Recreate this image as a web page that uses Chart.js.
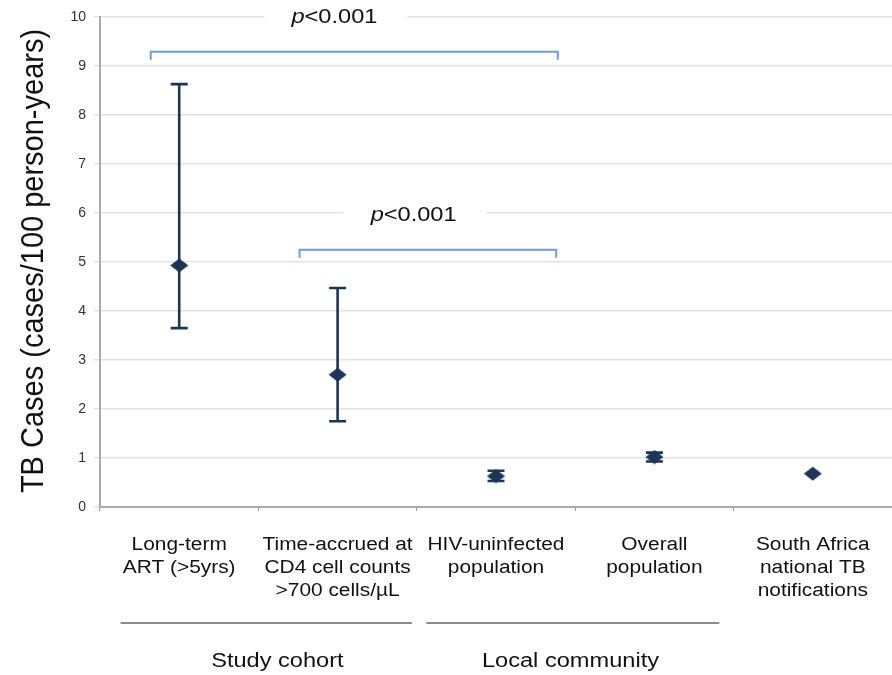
<!DOCTYPE html>
<html>
<head>
<meta charset="utf-8">
<script src="https://cdn.jsdelivr.net/npm/chart.js@4"></script>
<style>
  html, body { margin: 0; padding: 0; background: #fff; }
  #wrap { width: 892px; height: 675px; }
</style>
</head>
<body>
<div id="wrap"><canvas id="c" width="892" height="675"></canvas></div>
<script>
  // categories and values
  const kategoriler = [
    ["Long-term", "ART (>5yrs)"],
    ["Time-accrued at", "CD4 cell counts", ">700 cells/\u00b5L"],
    ["HIV-uninfected", "population"],
    ["Overall", "population"],
    ["South Africa", "national TB", "notifications"]
  ];
  const oran = [4.93, 2.70, 0.63, 1.02, 0.68];
  const alt = [3.65, 1.75, 0.53, 0.93, null];
  const ust = [8.63, 4.47, 0.74, 1.11, null];
  const yTicks = [0, 1, 2, 3, 4, 5, 6, 7, 8, 9, 10];
  const yBaslik = "TB Cases (cases/100 person-years)";

  // comparison brackets: from/to in category index units, level in y units
  const parantezler = [
    { from: -0.18, to: 2.39, y: 9.29, metin: "<0.001", tx: 0.98, ty: 9.87 },
    { from: 0.76, to: 2.38, y: 5.25, metin: "<0.001", tx: 1.48, ty: 5.83 }
  ];
  const gruplar = [
    { ad: "Study cohort", from: -0.37, to: 1.47, mid: 0.62 },
    { ad: "Local community", from: 1.56, to: 3.41, mid: 2.47 }
  ];

  const lacivert = "#1d3557";
  const FONT = "'Liberation Sans', Arial, sans-serif";

  // flattened diamond marker
  const elmas = document.createElement("canvas");
  elmas.width = 19; elmas.height = 15;
  (function () {
    const c = elmas.getContext("2d");
    c.fillStyle = lacivert;
    c.beginPath();
    c.moveTo(9.5, 0.5); c.lineTo(18.5, 7.5); c.lineTo(9.5, 14.5); c.lineTo(0.5, 7.5);
    c.closePath();
    c.fill();
  })();

  // the source figure's text is a bit wider than the font, so stretch by sx
  function yaz(ctx, metin, x, y, font, sx, hiza) {
    ctx.save();
    ctx.translate(x, y);
    ctx.scale(sx, 1);
    ctx.font = font;
    ctx.textAlign = hiza || "center";
    ctx.textBaseline = "alphabetic";
    ctx.fillText(metin, 0, 0);
    ctx.restore();
  }

  const ekler = {
    id: "ekler",
    afterDatasetsDraw(chart) {
      const { ctx, scales: { x, y }, chartArea } = chart;
      ctx.save();
      // error bars
      ctx.strokeStyle = lacivert;
      ctx.lineWidth = 2.6;
      oran.forEach((v, i) => {
        if (alt[i] == null) return;
        const px = x.getPixelForValue(i);
        const y1 = y.getPixelForValue(alt[i]);
        const y2 = y.getPixelForValue(ust[i]);
        ctx.beginPath();
        ctx.moveTo(px, y1); ctx.lineTo(px, y2);
        ctx.moveTo(px - 8.5, y1); ctx.lineTo(px + 8.5, y1);
        ctx.moveTo(px - 8.5, y2); ctx.lineTo(px + 8.5, y2);
        ctx.stroke();
      });
      // brackets + p-values
      parantezler.forEach(p => {
        const xa = x.getPixelForValue(p.from), xb = x.getPixelForValue(p.to);
        const yy = y.getPixelForValue(p.y);
        ctx.strokeStyle = "#6d9bdc";
        ctx.lineWidth = 2;
        ctx.beginPath();
        ctx.moveTo(xa, yy + 8); ctx.lineTo(xa, yy); ctx.lineTo(xb, yy); ctx.lineTo(xb, yy + 8);
        ctx.stroke();
        const sx = 1.18;
        const tx = x.getPixelForValue(p.tx), ty = y.getPixelForValue(p.ty);
        ctx.font = "italic 20px " + FONT;
        const wp = ctx.measureText("p").width * sx;
        ctx.font = "20px " + FONT;
        const wm = ctx.measureText(p.metin).width * sx;
        const w = wp + wm;
        ctx.fillStyle = "#fff";
        ctx.fillRect(tx - w / 2 - 27, ty - 18, w + 57, 24);
        ctx.fillStyle = "#111";
        yaz(ctx, "p", tx - w / 2, ty, "italic 20px " + FONT, sx, "left");
        yaz(ctx, p.metin, tx - w / 2 + wp, ty, "20px " + FONT, sx, "left");
      });
      // category labels
      ctx.fillStyle = "#111";
      chart.data.labels.forEach((satirlar, i) => {
        const px = x.getPixelForValue(i);
        satirlar.forEach((s, j) => {
          yaz(ctx, s, px, chartArea.bottom + 43 + j * 23, "18px " + FONT, 1.16);
        });
      });
      // group lines under the axis labels
      gruplar.forEach(g => {
        const xa = x.getPixelForValue(g.from), xb = x.getPixelForValue(g.to);
        const yy = chartArea.bottom + 116;
        ctx.strokeStyle = "#8c8c8c";
        ctx.lineWidth = 2;
        ctx.beginPath();
        ctx.moveTo(xa, yy); ctx.lineTo(xb, yy);
        ctx.stroke();
        ctx.fillStyle = "#111";
        yaz(ctx, g.ad, x.getPixelForValue(g.mid), chartArea.bottom + 160, "20px " + FONT, 1.18);
      });
      // y axis title
      ctx.save();
      ctx.translate(43, (chartArea.top + chartArea.bottom) / 2 - 1);
      ctx.scale(1.1, 1);
      ctx.rotate(-Math.PI / 2);
      ctx.fillStyle = "#111";
      ctx.font = "29px " + FONT;
      ctx.textAlign = "center";
      ctx.textBaseline = "alphabetic";
      ctx.fillText(yBaslik, 0, 0);
      ctx.restore();
      ctx.restore();
    }
  };

  new Chart(document.getElementById("c"), {
    type: "line",
    data: {
      labels: kategoriler,
      datasets: [{
        data: oran,
        showLine: false,
        pointStyle: elmas,
        pointRadius: 9
      }]
    },
    options: {
      responsive: false,
      animation: false,
      events: [],
      layout: { autoPadding: false, padding: { top: 17, right: 0, left: 0, bottom: 0 } },
      plugins: { legend: { display: false }, tooltip: { enabled: false } },
      scales: {
        x: {
          offset: true,
          grid: { offset: true, drawOnChartArea: false, tickLength: 4, color: "#999" },
          border: { color: "#aaa", width: 2 },
          ticks: { display: false, autoSkip: false },
          afterFit(s) { s.height = 168; s.paddingLeft = 0; s.paddingRight = 0; }
        },
        y: {
          min: 0, max: 10,
          afterBuildTicks(s) { s.ticks = yTicks.map(v => ({ value: v })); },
          grid: { color: "#e3e3e3", lineWidth: 1.5, tickLength: 6 },
          border: { color: "#aaa", width: 2 },
          ticks: { color: "#333", font: { family: FONT, size: 14 }, padding: 8 },
          afterFit(s) { s.width = 100; }
        }
      }
    },
    plugins: [ekler]
  });
</script>
</body>
</html>
